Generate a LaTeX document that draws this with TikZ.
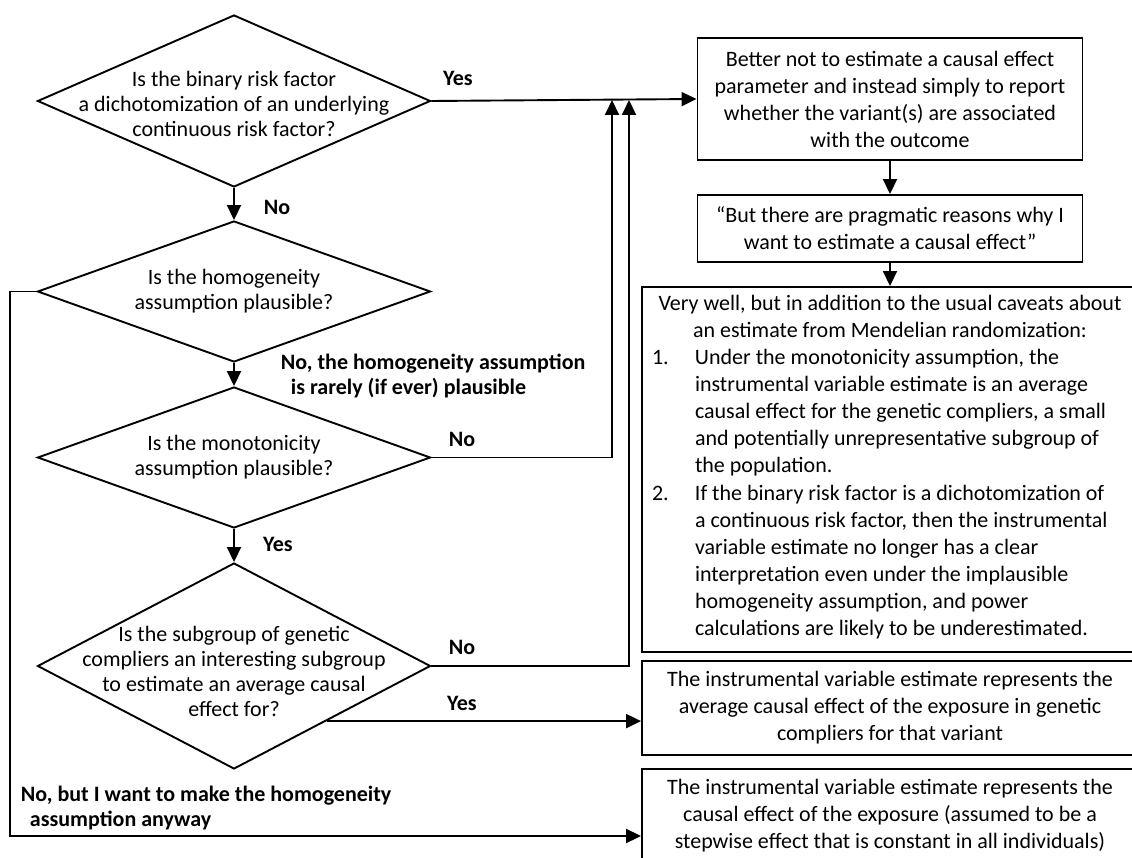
\documentclass[tikz,border=0pt]{standalone}
\usepackage{fontspec}
\setmainfont{Carlito}
\usetikzlibrary{shapes.geometric,arrows.meta,calc}
\newcommand{\boxfont}{\fontsize{22}{27}\selectfont}
\newcommand{\askfont}{\fontsize{22}{25}\selectfont}
\begin{document}
\begin{tikzpicture}[x=1pt, y=-1pt, line width=1.9pt, >={Triangle[length=15pt,width=14pt]},
   decision/.style={diamond, draw, minimum width=393pt, inner sep=0pt},
   asks/.style={align=center, font=\askfont, inner sep=0pt},
   outcome/.style={rectangle, draw, align=center, font=\boxfont, inner sep=0pt},
   answer/.style={font=\askfont\bfseries, inner sep=0pt}]
   \useasboundingbox (0,0) rectangle (1132,858);
   \clip (0,0) rectangle (1132,858);
   % questions
   \node [decision, minimum height=172pt] (q1) at (234,101)   {};
   \node [decision, minimum height=141pt] (q2) at (234,291.5) {};
   \node [decision, minimum height=141pt] (q3) at (234,457.5) {};
   \node [decision, minimum height=206pt] (q4) at (234,666)   {};
   \node [asks] (q1t) at (234,104) {Is the binary risk factor\\ a dichotomization of an underlying\\ continuous risk factor?};
   \node [asks] (q2t) at (q2)      {Is the homogeneity\\ assumption plausible?};
   \node [asks] (q3t) at (q3)      {Is the monotonicity\\ assumption plausible?};
   \node [asks] (q4t) at (234,671) {Is the subgroup of genetic\\ compliers an interesting subgroup\\ to estimate an average causal\\ effect for?};
   % results
   \node [outcome, minimum width=385pt, minimum height=122pt] (r1) at (890,99)    {Better not to estimate a causal effect\\ parameter and instead simply to report\\ whether the variant(s) are associated\\ with the outcome};
   \node [outcome, minimum width=385pt, minimum height=67pt]  (r2) at (890,228.5) {“But there are pragmatic reasons why I\\ want to estimate a causal effect”};
   \node [outcome, minimum width=496pt, minimum height=365pt] (r3) at (890,469.5) {\parbox{476pt}{%
      \centering Very well, but in addition to the usual caveats about\\ an estimate from Mendelian randomization:\par
      \raggedright
      \makebox[43pt][l]{1.}\parbox[t]{433pt}{\raggedright Under the monotonicity assumption, the\\ instrumental variable estimate is an average\\ causal effect for the genetic compliers, a small\\ and potentially unrepresentative subgroup of\\ the population.\strut}\par
      \makebox[43pt][l]{2.}\parbox[t]{433pt}{\raggedright\strut If the binary risk factor is a dichotomization of\\ a continuous risk factor, then the instrumental\\ variable estimate no longer has a clear\\ interpretation even under the implausible\\ homogeneity assumption, and power\\ calculations are likely to be underestimated.\strut}}};
   \node [outcome, minimum width=496pt, minimum height=94pt] (r4) at (890,708) {The instrumental variable estimate represents the\\ average causal effect of the exposure in genetic\\ compliers for that variant};
   \node [outcome, minimum width=496pt, minimum height=94pt] (r5) at (890,816) {The instrumental variable estimate represents the\\ causal effect of the exposure (assumed to be a\\ stepwise effect that is constant in all individuals)};
   % answers
   \node [answer] (a1) at (458,78)  {Yes};
   \node [answer] (a2) at (277,207) {No};
   \node [answer, align=left, anchor=west] (a3) at (280,376) {No, the homogeneity assumption\\ \hspace*{10pt}is rarely (if ever) plausible};
   \node [answer] (a4) at (462,439) {No};
   \node [answer] (a5) at (278,544) {Yes};
   \node [answer] (a6) at (462,647) {No};
   \node [answer] (a7) at (462,703) {Yes};
   \node [answer, align=left, anchor=west] (a8) at (20,808) {No, but I want to make the homogeneity\\ \hspace*{9pt}assumption anyway};
   \coordinate (j1) at (612,100);
   \coordinate (j2) at (629,100);
   \coordinate (y4) at ($(q4.east)!0.53!(q4.south)$);
   \coordinate (c1) at (10,836);
   \draw [->] (q1.east) -- (r1.west);
   \draw [->] (q1) -- (q2);
   \draw [->] (q2) -- (q3);
   \draw [->] (q3) -- (q4);
   \draw [->] (r1) -- (r2);
   \draw [->] (r2) -- (r3);
   \draw [->] (q3.east) -| (j1);
   \draw [->] (q4.east) -| (j2);
   \draw [->] (y4) -- (y4 -| r4.west);
   \draw [->] (q2.west) -| (c1) -- (c1 -| r5.west);
\end{tikzpicture}
\end{document}
